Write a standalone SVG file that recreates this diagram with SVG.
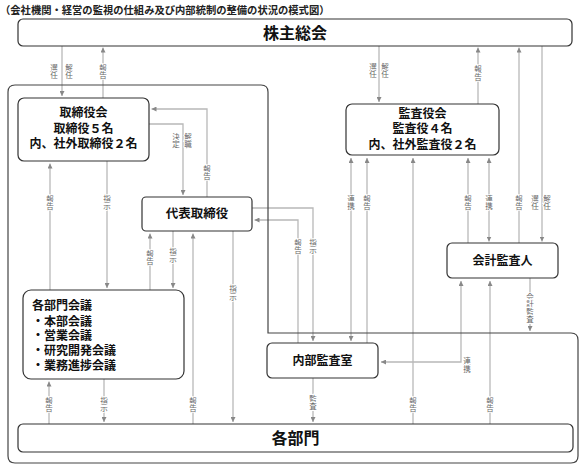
<svg xmlns="http://www.w3.org/2000/svg" width="581" height="466" viewBox="0 0 581 466">
<style>
text{font-family:"Noto Sans CJK JP","Noto Sans",sans-serif;}
.title{font-size:10.3px;font-weight:bold;fill:#222;}
.box{fill:#fff;stroke:#333;stroke-width:1.2;}
.frame{fill:none;stroke:#444;stroke-width:1.2;}
.big{font-size:16px;font-weight:bold;fill:#111;text-anchor:middle;}
.nt{font-size:12px;font-weight:bold;fill:#111;text-anchor:middle;}
.nl{font-size:12px;font-weight:bold;fill:#111;}
.c{fill:none;stroke:#b8b8b8;stroke-width:1.3;}
.e{marker-end:url(#ah);}
.b{marker-start:url(#ah);marker-end:url(#ah);}
.lb{font-size:7.5px;fill:#666;text-anchor:middle;stroke:#fff;stroke-width:1.8;paint-order:stroke;}
</style>
<defs>
<marker id="ah" viewBox="0 0 6 6" refX="6" refY="3" markerWidth="5" markerHeight="5" markerUnits="userSpaceOnUse" orient="auto-start-reverse"><path d="M0,0L6,3L0,6z" fill="#888"/></marker>
</defs>
<text class="title" x="0" y="14">（会社機関・経営の監視の仕組み及び内部統制の整備の状況の模式図）</text>

<g id="connectors">
<path class="c e" d="M62,46V96"/>
<path class="c e" d="M103,98V47.5"/>
<path class="c e" d="M379,46V102"/>
<path class="c e" d="M478,104V47.5"/>
<path class="c e" d="M519,243V47.5"/>
<path class="c e" d="M542,46V241.5"/>
<path class="c b" d="M351,158V341"/>
<path class="c e" d="M367,343V158"/>
<path class="c e" d="M413,424V158"/>
<path class="c e" d="M468,243V158"/>
<path class="c b" d="M489,158V241.5"/>
<path class="c b" d="M461,281V362H381"/>
<path class="c e" d="M490,424V281"/>
<path class="c e" d="M530,278V331"/>
<path class="c e" d="M149,124H183V195"/>
<path class="c e" d="M207,197V109H151.5"/>
<path class="c e" d="M50,290V163.5"/>
<path class="c e" d="M107,161V288"/>
<path class="c e" d="M150,290V233.5"/>
<path class="c e" d="M173,231V288"/>
<path class="c e" d="M193,424V233.5"/>
<path class="c e" d="M233,231V422"/>
<path class="c e" d="M252,208H313V341"/>
<path class="c e" d="M298,343V220H254.5"/>
<path class="c e" d="M49,424V381.5"/>
<path class="c e" d="M104,379V422"/>
<path class="c e" d="M313,378V422"/>

<text class="lb" y="70.5"><tspan x="54">選</tspan><tspan x="54" dy="7.8">任</tspan></text>
<text class="lb" y="70.5"><tspan x="69">解</tspan><tspan x="69" dy="7.8">任</tspan></text>
<text class="lb" y="70.5"><tspan x="103">報</tspan><tspan x="103" dy="7.8">告</tspan></text>
<text class="lb" y="69.5"><tspan x="373">選</tspan><tspan x="373" dy="7.8">任</tspan></text>
<text class="lb" y="69.5"><tspan x="385">解</tspan><tspan x="385" dy="7.8">任</tspan></text>
<text class="lb" y="72"><tspan x="478">報</tspan><tspan x="478" dy="7.8">告</tspan></text>

<text class="lb" y="201.5"><tspan x="351">連</tspan><tspan x="351" dy="7.8">携</tspan></text>
<text class="lb" y="201.5"><tspan x="367">報</tspan><tspan x="367" dy="7.8">告</tspan></text>
<text class="lb" y="201.5"><tspan x="468">報</tspan><tspan x="468" dy="7.8">告</tspan></text>
<text class="lb" y="201.5"><tspan x="489">連</tspan><tspan x="489" dy="7.8">携</tspan></text>
<text class="lb" y="201.5"><tspan x="519">報</tspan><tspan x="519" dy="7.8">告</tspan></text>
<text class="lb" y="201.5"><tspan x="535">選</tspan><tspan x="535" dy="7.8">任</tspan></text>
<text class="lb" y="201.5"><tspan x="547">解</tspan><tspan x="547" dy="7.8">任</tspan></text>

<text class="lb" y="364"><tspan x="467">連</tspan><tspan x="467" dy="7.8">携</tspan></text>
<text class="lb" y="299.5"><tspan x="530">会</tspan><tspan x="530" dy="7.6">計</tspan><tspan x="530" dy="7.6">監</tspan><tspan x="530" dy="7.6">査</tspan></text>

<text class="lb" y="139.5"><tspan x="176">決</tspan><tspan x="176" dy="7.8">定</tspan></text>
<text class="lb" y="139.5"><tspan x="188">解</tspan><tspan x="188" dy="7.8">職</tspan></text>
<text class="lb" y="171.5"><tspan x="207">報</tspan><tspan x="207" dy="7.8">告</tspan></text>
<text class="lb" y="201.5"><tspan x="50">報</tspan><tspan x="50" dy="7.8">告</tspan></text>
<text class="lb" y="201.5"><tspan x="107">指</tspan><tspan x="107" dy="7.8">示</tspan></text>
<text class="lb" y="256.5"><tspan x="150">報</tspan><tspan x="150" dy="7.8">告</tspan></text>
<text class="lb" y="254.5"><tspan x="173">指</tspan><tspan x="173" dy="7.8">示</tspan></text>
<text class="lb" y="292"><tspan x="233">指</tspan><tspan x="233" dy="7.8">示</tspan></text>
<text class="lb" y="245.5"><tspan x="298">報</tspan><tspan x="298" dy="7.8">告</tspan></text>
<text class="lb" y="245.5"><tspan x="313">指</tspan><tspan x="313" dy="7.8">示</tspan></text>

<text class="lb" y="403.5"><tspan x="49">報</tspan><tspan x="49" dy="7.8">告</tspan></text>
<text class="lb" y="403.5"><tspan x="104">指</tspan><tspan x="104" dy="7.8">示</tspan></text>
<text class="lb" y="403.5"><tspan x="193">報</tspan><tspan x="193" dy="7.8">告</tspan></text>
<text class="lb" y="401.5"><tspan x="313">監</tspan><tspan x="313" dy="7.8">査</tspan></text>
<text class="lb" y="403.5"><tspan x="413">報</tspan><tspan x="413" dy="7.8">告</tspan></text>
<text class="lb" y="403.5"><tspan x="490">報</tspan><tspan x="490" dy="7.8">告</tspan></text>
</g>

<g id="company-frame">
<path class="frame" d="M15,85H261Q268,85 268,92V333H571Q578,333 578,340V456Q578,463 571,463H15Q8,463 8,456V92Q8,85 15,85Z"/>
</g>

<g id="kabunushi-sokai">
<rect class="box" x="18" y="19" width="554" height="27" rx="5"/>
<text class="big" x="295" y="38.5">株主総会</text>
</g>
<g id="torishimariyakukai">
<rect class="box" x="18" y="98" width="131" height="63" rx="6"/>
<text class="nt" x="83.5" y="117">取締役会</text>
<text class="nt" x="83.5" y="132.5">取締役５名</text>
<text class="nt" x="83.5" y="148">内、社外取締役２名</text>
</g>
<g id="kansayakukai">
<rect class="box" x="346" y="104" width="153" height="51" rx="6"/>
<text class="nt" x="422.5" y="118">監査役会</text>
<text class="nt" x="422.5" y="133">監査役４名</text>
<text class="nt" x="422.5" y="149">内、社外監査役２名</text>
</g>
<g id="daihyo-torishimariyaku">
<rect class="box" x="142" y="197" width="110" height="34" rx="4"/>
<text class="nt" x="197" y="218" style="font-size:12.5px">代表取締役</text>
</g>
<g id="kaikei-kansanin">
<rect class="box" x="447" y="243" width="111" height="35" rx="5"/>
<text class="nt" x="502.5" y="265">会計監査人</text>
</g>
<g id="kakubumon-kaigi">
<rect class="box" x="23" y="290" width="161" height="89" rx="8"/>
<text class="nl" x="32" y="310">各部門会議</text>
<text class="nl" x="32" y="325.5">・本部会議</text>
<text class="nl" x="32" y="340">・営業会議</text>
<text class="nl" x="32" y="355">・研究開発会議</text>
<text class="nl" x="32" y="370">・業務進捗会議</text>
</g>
<g id="naibu-kansashitsu">
<rect class="box" x="267" y="343" width="111" height="35" rx="5"/>
<text class="nt" x="322.5" y="364.5">内部監査室</text>
</g>
<g id="kakubumon">
<rect class="box" x="18" y="424" width="555" height="28" rx="5"/>
<text class="big" x="295.5" y="444">各部門</text>
</g>
</svg>
